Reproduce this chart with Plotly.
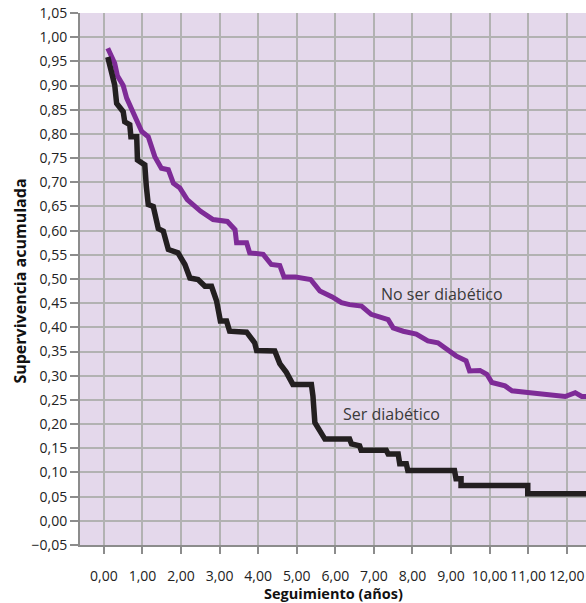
import plotly.graph_objects as go

# Data
t_no_diab = [0.10, 0.28, 0.35, 0.50, 0.59, 0.80, 0.98, 1.15, 1.32, 1.49, 1.67, 1.80, 1.97, 2.16, 2.51,
             2.83, 3.20, 3.40, 3.44, 3.70, 3.78, 4.13, 4.34, 4.56, 4.67, 4.97, 5.36, 5.60, 5.92, 6.16,
             6.37, 6.68, 6.93, 7.37, 7.50, 7.76, 8.10, 8.40, 8.66, 9.13, 9.39, 9.48, 9.75, 9.93, 10.06,
             10.40, 10.58, 11.05, 11.83, 11.96, 12.22, 12.39, 12.60]
s_no_diab = [0.977, 0.946, 0.920, 0.900, 0.874, 0.839, 0.805, 0.794, 0.753, 0.729, 0.726, 0.698, 0.688,
             0.664, 0.640, 0.623, 0.619, 0.602, 0.575, 0.575, 0.554, 0.551, 0.530, 0.528, 0.504, 0.504,
             0.499, 0.475, 0.463, 0.451, 0.447, 0.444, 0.427, 0.416, 0.399, 0.392, 0.386, 0.372, 0.368,
             0.341, 0.331, 0.310, 0.311, 0.303, 0.286, 0.279, 0.269, 0.265, 0.258, 0.257, 0.265, 0.257,
             0.257]

t_diab = [0.10, 0.20, 0.28, 0.33, 0.50, 0.54, 0.67, 0.70, 0.85, 0.87, 1.06, 1.10, 1.15, 1.28, 1.41,
          1.54, 1.67, 1.92, 2.10, 2.23, 2.44, 2.62, 2.79, 2.92, 3.00, 3.02, 3.18, 3.26, 3.70, 3.91,
          3.96, 4.43, 4.56, 4.73, 4.90, 5.38, 5.42, 5.47, 5.60, 5.73, 6.37, 6.42, 6.63, 6.67, 7.32,
          7.37, 7.63, 7.67, 7.84, 7.88, 9.09, 9.13, 9.26, 9.26, 10.99, 10.99, 12.60]
s_diab = [0.959, 0.925, 0.901, 0.863, 0.846, 0.825, 0.819, 0.794, 0.794, 0.746, 0.736, 0.691, 0.654,
          0.650, 0.604, 0.599, 0.561, 0.554, 0.530, 0.502, 0.499, 0.485, 0.485, 0.455, 0.430, 0.413,
          0.413, 0.392, 0.390, 0.368, 0.352, 0.351, 0.325, 0.307, 0.282, 0.282, 0.258, 0.203, 0.186,
          0.169, 0.169, 0.159, 0.155, 0.146, 0.146, 0.138, 0.138, 0.118, 0.118, 0.104, 0.104, 0.087,
          0.087, 0.073, 0.073, 0.056, 0.056]

x_ticks = [0, 1, 2, 3, 4, 5, 6, 7, 8, 9, 10, 11, 12, 13]
y_ticks = [round(-0.05 + 0.05 * i, 2) for i in range(23)]

series_labels = ["No ser diabético", "Ser diabético"]
label_pos = [(8.77, 0.469), (7.46, 0.220)]
x_title = "Seguimiento (años)"
y_title = "Supervivencia acumulada"

FONT = "Open Sans, Liberation Sans, sans-serif"
PURPLE = "#7E2B97"
BLACK = "#231F20"

fig = go.Figure()
fig.add_trace(go.Scatter(x=t_no_diab, y=s_no_diab, mode="lines",
                         line=dict(color=PURPLE, width=5), name=series_labels[0],
                         showlegend=False))
fig.add_trace(go.Scatter(x=t_diab, y=s_diab, mode="lines",
                         line=dict(color=BLACK, width=5.5), name=series_labels[1],
                         showlegend=False))

for lab, (lx, ly) in zip(series_labels, label_pos):
    fig.add_annotation(x=lx, y=ly, text=lab, showarrow=False,
                       font=dict(family=FONT, size=16, color="#3A3A3A"))

# axis titles
fig.add_annotation(xref="paper", yref="paper", x=0.5, y=-0.0912, text="<b>" + x_title + "</b>",
                   showarrow=False, xanchor="center", yanchor="middle",
                   font=dict(family=FONT, size=14.5, color="#111111"))
fig.add_annotation(xref="paper", yref="paper", x=-0.1186, y=0.497, text="<b>" + y_title + "</b>",
                   showarrow=False, xanchor="center", yanchor="middle", textangle=-90,
                   font=dict(family=FONT, size=16, color="#111111"))

fig.update_layout(
    width=586, height=603,
    margin=dict(l=80, r=0, t=13, b=58, autoexpand=False),
    paper_bgcolor="white",
    plot_bgcolor="#E4D8EB",
    separators=",.",
    font=dict(family=FONT, size=14, color="#222222"),
)
fig.update_xaxes(
    range=[-0.62, 12.50], automargin=False,
    tickvals=x_ticks, tickformat=".2f",
    showgrid=True, gridcolor="#B2B2B2", gridwidth=1.5,
    showline=True, linecolor="#8C8C8C", linewidth=2,
    ticks="outside", ticklen=7, tickcolor="#8C8C8C", tickwidth=2,
    ticklabelstandoff=10, ticklabeloverflow="allow",
    zeroline=False,
    tickfont=dict(family=FONT, size=14, color="#222222"),
)
fig.update_yaxes(
    range=[-0.05, 1.05], automargin=False,
    tickvals=y_ticks, tickformat=".2f",
    showgrid=True, gridcolor="#B2B2B2", gridwidth=1.5,
    showline=True, linecolor="#8C8C8C", linewidth=2,
    ticks="outside", ticklen=8, tickcolor="#8C8C8C", tickwidth=2,
    ticklabeloverflow="allow",
    zeroline=False,
    tickfont=dict(family=FONT, size=14, color="#222222"),
)

# remove the browser's default 8px body margin so the figure fills the window exactly
fig.write_html("out.html", config={"displayModeBar": False},
               post_script="document.body.style.margin='0';")
